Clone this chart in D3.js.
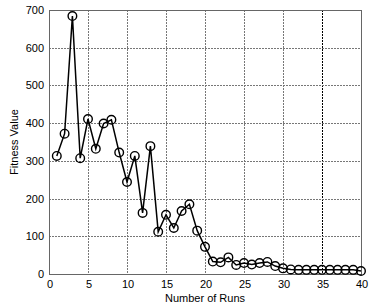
<!DOCTYPE html>
<html>
<head>
<meta charset="utf-8">
<script src="https://cdn.jsdelivr.net/npm/d3@7"></script>
<style>
  body { margin: 0; background: #fff; }
  text { font-family: "Liberation Sans", Arial, sans-serif; }
</style>
</head>
<body>
<svg id="chart" width="376" height="305"></svg>
<script>
// data
var runs = d3.range(1, 41);
var fitness = [313, 372, 684, 307, 411, 332, 399, 409, 322, 244,
  313, 162, 339, 112, 157, 122, 167, 185, 115, 72,
  33, 31, 44, 24, 29, 25, 29, 32, 21, 15,
  12, 11, 11, 11, 11, 11, 11, 11, 11, 8];
var xTicks = [0, 5, 10, 15, 20, 25, 30, 35, 40];
var yTicks = [0, 100, 200, 300, 400, 500, 600, 700];

var dims = { left: 49, top: 10, right: 361, bottom: 274 };

var svg = d3.select("#chart");

var xScale = d3.scaleLinear().domain([0, 40]).range([dims.left, dims.right]);
var yScale = d3.scaleLinear().domain([0, 700]).range([dims.bottom, dims.top]);

// grid
svg.append("g")
  .selectAll("line")
  .data(xTicks.slice(1, -1))
  .enter()
  .append("line")
  .attr("x1", d => Math.round(xScale(d)) + 0.5)
  .attr("x2", d => Math.round(xScale(d)) + 0.5)
  .attr("y1", dims.top)
  .attr("y2", dims.bottom)
  .attr("stroke", d => (d == 35 ? "#000" : "#777"))
  .attr("stroke-width", 1)
  .attr("stroke-dasharray", "2,1");

svg.append("g")
  .selectAll("line")
  .data(yTicks.slice(1, -1))
  .enter()
  .append("line")
  .attr("x1", dims.left)
  .attr("x2", dims.right)
  .attr("y1", d => Math.round(yScale(d)) + 0.5)
  .attr("y2", d => Math.round(yScale(d)) + 0.5)
  .attr("stroke", "#777")
  .attr("stroke-width", 1)
  .attr("stroke-dasharray", "2,1");

// box
svg.append("rect")
  .attr("x", dims.left + 0.5)
  .attr("y", dims.top + 0.5)
  .attr("width", dims.right - dims.left)
  .attr("height", dims.bottom - dims.top)
  .attr("fill", "none")
  .attr("stroke", "#666")
  .attr("stroke-width", 1);

// tick labels
svg.append("g")
  .selectAll("text")
  .data(xTicks)
  .enter()
  .append("text")
  .attr("x", d => xScale(d) + 1)
  .attr("y", dims.bottom + 14)
  .attr("text-anchor", "middle")
  .attr("font-size", "11px")
  .text(d => d);

svg.append("g")
  .selectAll("text")
  .data(yTicks)
  .enter()
  .append("text")
  .attr("x", dims.left - 5)
  .attr("y", d => yScale(d) + 4)
  .attr("text-anchor", "end")
  .attr("font-size", "11px")
  .text(d => d);

// axis labels
svg.append("text")
  .attr("x", (dims.left + dims.right) / 2)
  .attr("y", 302)
  .attr("text-anchor", "middle")
  .attr("font-size", "11px")
  .text("Number of Runs");

svg.append("text")
  .attr("transform", "translate(18," + (dims.top + dims.bottom) / 2 + ") rotate(-90)")
  .attr("text-anchor", "middle")
  .attr("font-size", "11px")
  .text("Fitness Value");

// series
var line = d3.line()
  .x((d, i) => xScale(runs[i]))
  .y(d => yScale(d));

svg.append("path")
  .datum(fitness)
  .attr("d", line)
  .attr("fill", "none")
  .attr("stroke", "#000")
  .attr("stroke-width", 1.5);

svg.append("g")
  .selectAll("circle")
  .data(fitness)
  .enter()
  .append("circle")
  .attr("cx", (d, i) => xScale(runs[i]))
  .attr("cy", d => yScale(d))
  .attr("r", 4.3)
  .attr("fill", "none")
  .attr("stroke", "#000")
  .attr("stroke-width", 1.4);
</script>
</body>
</html>
